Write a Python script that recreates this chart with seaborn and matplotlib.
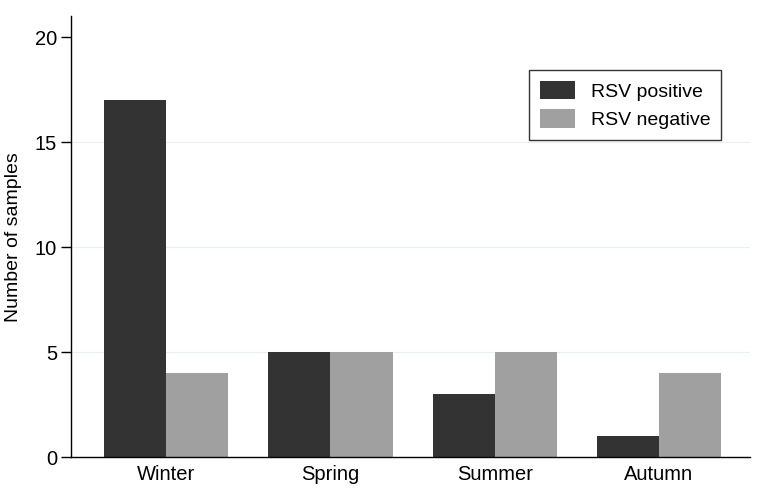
import pandas as pd
import matplotlib
matplotlib.use("Agg")
import matplotlib.pyplot as plt
import seaborn as sns

seasons = ["Winter", "Spring", "Summer", "Autumn"]
rsv_positive = [17, 5, 3, 1]
rsv_negative = [4, 5, 5, 4]
groups = ["RSV positive", "RSV negative"]

df = pd.DataFrame({
    "season": seasons * 2,
    "count": rsv_positive + rsv_negative,
    "group": [groups[0]] * 4 + [groups[1]] * 4,
})

sns.set_style("white")
plt.rcParams["font.family"] = ["Liberation Sans", "DejaVu Sans"]
plt.rcParams["text.color"] = "black"
plt.rcParams["axes.labelcolor"] = "black"
plt.rcParams["xtick.color"] = "black"
plt.rcParams["ytick.color"] = "black"

fig = plt.figure(figsize=(7.63, 4.91), dpi=100)
ax = fig.add_axes([0.093, 0.069, 0.89, 0.898])

for y in [5, 10, 15]:
    ax.axhline(y, color="#e8f0f0", lw=0.9, zorder=0)

sns.barplot(
    data=df, x="season", y="count", hue="group",
    order=seasons, hue_order=groups,
    palette=["#333333", "#a0a0a0"],
    width=0.756, saturation=1, ax=ax, zorder=2,
)
for bar in ax.patches:
    bar.set_linewidth(0)

ax.set_xlim(-0.58, 3.555)
ax.set_ylim(0, 21)
ax.set_yticks([0, 5, 10, 15, 20])
ax.set_xlabel("")
ax.set_ylabel("Number of samples", fontsize=14, labelpad=9)
ax.tick_params(axis="y", length=7, width=1, labelsize=14.5, pad=3, left=True)
ax.tick_params(axis="x", length=0, labelsize=14.5, pad=6)

for side in ["top", "right"]:
    ax.spines[side].set_visible(False)
for side in ["left", "bottom"]:
    ax.spines[side].set_color("black")
    ax.spines[side].set_linewidth(1)

leg = ax.legend(
    loc="upper right", bbox_to_anchor=(0.957, 0.878), borderaxespad=0,
    fontsize=14, frameon=True, fancybox=False, edgecolor="black",
    handlelength=1.8, handleheight=1.1, borderpad=0.55, labelspacing=0.45,
    handletextpad=0.8,
)
leg.get_frame().set_linewidth(1)

fig.savefig("out.png", dpi=100)
